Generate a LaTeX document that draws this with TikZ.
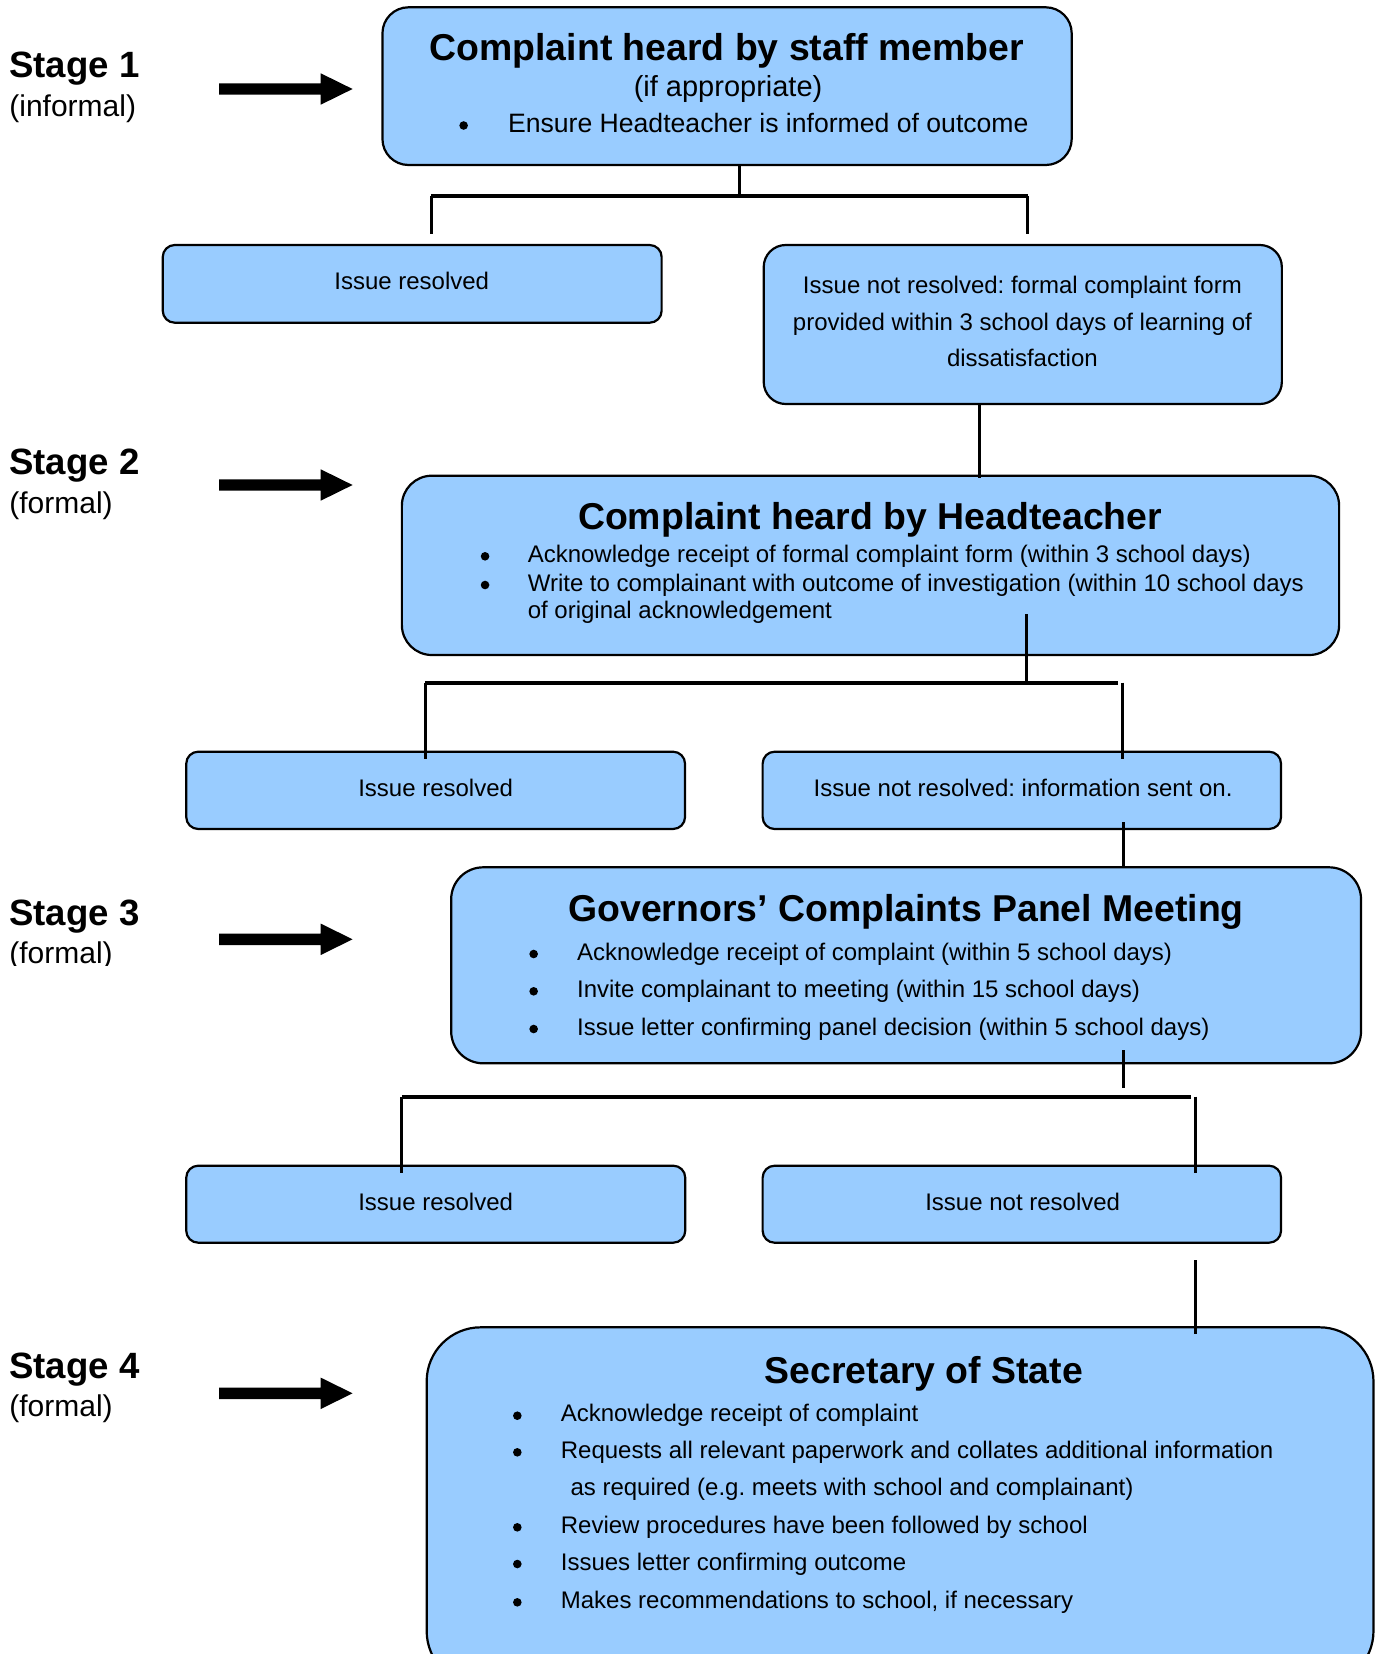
\documentclass[tikz,border=0pt]{standalone}
\usepackage{fontspec}
\setmainfont{Liberation Sans}
\usetikzlibrary{fit}
\definecolor{boxblue}{HTML}{99CCFF}
\frenchspacing
\begin{document}
\begin{tikzpicture}[x=0.5pt,y=-0.5pt,
  box/.style={draw=black, line width=1.1pt, fill=boxblue, rounded corners=#1, inner sep=0pt},
  conn/.style={draw=black, line width=1.5pt},
  hconn/.style={draw=black, line width=1.8pt},
  ttl/.style={anchor=base, inner sep=0pt, font=\fontsize{18.7}{22}\selectfont\bfseries},
  sub/.style={anchor=base, inner sep=0pt, font=\fontsize{14.5}{17}\selectfont},
  bigbul/.style={anchor=base west, inner sep=0pt, font=\fontsize{13.3}{16}\selectfont},
  bul/.style={anchor=base west, inner sep=0pt, font=\fontsize{12}{14}\selectfont},
  dot/.style={circle, fill=black, inner sep=0pt, minimum size=4.3pt},
  small/.style={anchor=base, inner sep=0pt, font=\fontsize{12}{14}\selectfont},
  stagelbl/.style={anchor=base west, inner sep=0pt, font=\fontsize{18.3}{22}\selectfont\bfseries},
  stagesub/.style={anchor=base west, inner sep=0pt, font=\fontsize{15}{18}\selectfont},
  bigarrow/.style={fill=black}
]
\useasboundingbox (0,0) rectangle (1378,1654);
\begin{scope}[xscale=0.996]
% ---------- stage labels ----------
\node[stagelbl] (s1) at (9,77) {Stage 1};
\node[stagesub] (s1b) at (9,116) {(informal)};
\node[stagelbl] (s2) at (9,474.3) {Stage 2};
\node[stagesub] (s2b) at (9,513.3) {(formal)};
\node[stagelbl] (s3) at (9,925.7) {Stage 3};
\begin{scope}
\clip (0,900) rectangle (200,965.5);
\node[stagesub] (s3b) at (9,963) {(formal)};
\end{scope}
\node[stagelbl] (s4) at (9,1378.3) {Stage 4};
\node[stagesub] (s4b) at (9,1416.7) {(formal)};

% ---------- arrows ----------
\foreach \yy in {89,485,939.3,1393.3}{
  \fill[bigarrow, shift={(0,\yy)}] (220,-5.7) -- (322,-5.7) -- (322,-15.7) -- (354,0)
     -- (322,15.7) -- (322,5.7) -- (220,5.7) -- cycle;
}

% ---------- boxes ----------
\node[box=13pt, fit={(384,7.3) (1076,165)}] (b1) {};
\node[box=6pt, fit={(163.4,245) (664.3,322.7)}] (r1) {};
\node[box=11pt, fit={(766.8,245) (1287,404)}] (n1) {};
\node[box=15pt, fit={(403.5,475.7) (1344.5,655)}] (b2) {};
\node[box=6pt, fit={(187,751.7) (687.8,829)}] (r2) {};
\node[box=6pt, fit={(765.7,751.7) (1286.2,829)}] (n2) {};
\node[box=16pt, fit={(453,867.3) (1366.5,1063.3)}] (b3) {};
\node[box=6pt, fit={(187,1165.7) (688,1242.7)}] (r3) {};
\node[box=6pt, fit={(765.7,1165.7) (1286.2,1242.7)}] (n3) {};
\node[box=27pt, fit={(428.4,1327.3) (1379,1685)}] (b4) {};

% ---------- box 1 text ----------
\node[ttl] (b1t) at (729.7,60) {Complaint heard by staff member};
\node[sub] (b1s) at (731,96.7) {(if appropriate)};
\node[dot] (b1d) at (465.5,125.5) {};
\node[bigbul] (b1x) at (509.7,132.3) {Ensure Headteacher is informed of outcome};

\node[small] (r1t) at (413.4,289.3) {Issue resolved};
\node[small] (n1a) at (1026.5,293.3) {Issue not resolved: formal complaint form};
\node[small] (n1b) at (1026.5,330.5) {provided within 3 school days of learning of};
\node[small] (n1c) at (1026.5,366.7) {dissatisfaction};

% ---------- box 2 text ----------
\node[ttl] (b2t) at (873.6,529.3) {Complaint heard by Headteacher};
\node[dot] (b2d1) at (487,556.3) {};
\node[bul] (b2x1) at (529.5,562.3) {Acknowledge receipt of formal complaint form (within 3 school days)};
\node[dot] (b2d2) at (487,585) {};
\node[bul] (b2x2) at (529.5,591) {Write to complainant with outcome of investigation (within 10 school days};
\node[bul] (b2x3) at (529.5,618.3) {of original acknowledgement};

\node[small] (r2t) at (437.4,796.7) {Issue resolved};
\node[small] (n2t) at (1027.2,796.7) {Issue not resolved: information sent on.};

% ---------- box 3 text ----------
\node[ttl] (b3t) at (909.7,921.7) {Governors’ Complaints Panel Meeting};
\node[dot] (b3d1) at (535.8,954) {};
\node[bul] (b3x1) at (579,960) {Acknowledge receipt of complaint (within 5 school days)};
\node[dot] (b3d2) at (535.8,991.3) {};
\node[bul] (b3x2) at (579,997.3) {Invite complainant to meeting (within 15 school days)};
\node[dot] (b3d3) at (535.8,1029) {};
\node[bul] (b3x3) at (579,1035) {Issue letter confirming panel decision (within 5 school days)};

\node[small] (r3t) at (437.4,1210) {Issue resolved};
\node[small] (n3t) at (1026.8,1210) {Issue not resolved};

% ---------- box 4 text ----------
\node[ttl] (b4t) at (927.6,1383.3) {Secretary of State};
\node[dot] (b4d1) at (519.4,1415.7) {};
\node[bul] (b4x1) at (562.7,1421.7) {Acknowledge receipt of complaint};
\node[dot] (b4d2) at (519.4,1452.3) {};
\node[bul] (b4x2) at (562.7,1458.3) {Requests all relevant paperwork and collates additional information};
\node[bul] (b4x2b) at (572.4,1495) {as required (e.g. meets with school and complainant)};
\node[dot] (b4d3) at (519.4,1527.3) {};
\node[bul] (b4x3) at (562.7,1533.3) {Review procedures have been followed by school};
\node[dot] (b4d4) at (519.4,1564) {};
\node[bul] (b4x4) at (562.7,1570) {Issues letter confirming outcome};
\node[dot] (b4d5) at (519.4,1602.3) {};
\node[bul] (b4x5) at (562.7,1608.3) {Makes recommendations to school, if necessary};

% ---------- connectors ----------
% stage 1 split
\coordinate (j1) at (742,196);
\coordinate (j1L) at (433,196);
\coordinate (j1R) at (1032,196);
\coordinate (e1L) at (433,234.3);
\coordinate (e1R) at (1032,234.3);
\draw[conn] (b1.south -| j1) -- (j1);
\draw[hconn] (j1L) -- (j1R);
\draw[conn] (j1L) -- (e1L);
\draw[conn] (j1R) -- (e1R);
% n1 -> b2
\coordinate (c1) at (983,440);
\draw[conn] (n1.south -| c1) -- ([yshift=-1.5pt]b2.north -| c1);
% stage 2 split
\coordinate (s2top) at (1030.3,614.3);
\coordinate (j2) at (1030.3,682.7);
\coordinate (j2L) at (427.2,682.7);
\coordinate (j2R) at (1122.4,682.7);
\coordinate (k2R) at (1127.2,682.7);
\coordinate (e2L) at (427.2,759.3);
\coordinate (e2R) at (1127.2,759.3);
\draw[conn] (s2top) -- (j2);
\draw[hconn] (j2L) -- (j2R);
\draw[conn] (j2L) -- (e2L);
\draw[conn] (k2R) -- (e2R);
% n2 -> b3
\coordinate (c2) at (1128,850);
\draw[conn] ([yshift=4pt]n2.south -| c2) -- ([yshift=-0.8pt]b3.north -| c2);
% stage 3 split
\coordinate (s3top) at (1128,1050);
\coordinate (s3bot) at (1128,1088.3);
\coordinate (j3L) at (403.5,1096.7);
\coordinate (j3R) at (1195.7,1096.7);
\coordinate (k3R) at (1200,1096.7);
\coordinate (e3L) at (403.5,1173.3);
\coordinate (e3R) at (1200,1173.3);
\draw[conn] (s3top) -- (s3bot);
\draw[hconn] (j3L) -- (j3R);
\draw[conn] (j3L) -- (e3L);
\draw[conn] (k3R) -- (e3R);
% n3 -> b4
\coordinate (c3) at (1200,1260);
\draw[conn] (c3) -- ([yshift=-4pt]b4.north -| c3);
\end{scope}
\end{tikzpicture}
\end{document}
